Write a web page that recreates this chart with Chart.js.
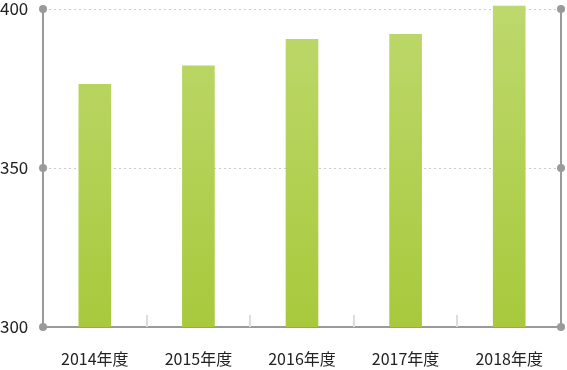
<!DOCTYPE html>
<html>
<head>
<meta charset="utf-8">
<script src="https://cdn.jsdelivr.net/npm/chart.js@4"></script>
<style>
  html, body { margin: 0; padding: 0; background: #fff; }
  #wrap { width: 567px; height: 370px; }
</style>
</head>
<body>
<div id="wrap"><canvas id="c" width="567" height="370"></canvas></div>
<script>
const categories = ['2014年度', '2015年度', '2016年度', '2017年度', '2018年度'];
const values = [376.4, 382.2, 390.6, 392.1, 401];
const yTicks = [300, 350, 400];

const FONT = '"Noto Sans CJK JP", "Noto Sans", sans-serif';
const AXIS = '#9a9a9a';

const decor = {
  id: 'decor',
  afterDatasetsDraw(chart) {
    const ctx = chart.ctx;
    const x = chart.scales.x;
    const area = chart.chartArea;
    ctx.save();
    ctx.strokeStyle = '#dddddd';
    ctx.lineWidth = 2;
    for (let i = 0; i < categories.length - 1; i++) {
      const px = Math.round((x.getPixelForValue(i) + x.getPixelForValue(i + 1)) / 2);
      ctx.beginPath();
      ctx.moveTo(px, area.bottom);
      ctx.lineTo(px, area.bottom - 12);
      ctx.stroke();
    }
    ctx.restore();
  },
  afterDraw(chart) {
    const ctx = chart.ctx;
    const y = chart.scales.y;
    const area = chart.chartArea;
    ctx.save();
    ctx.fillStyle = AXIS;
    yTicks.forEach(v => {
      const py = y.getPixelForValue(v);
      [area.left, area.right].forEach(px => {
        ctx.beginPath();
        ctx.arc(px, py, 4, 0, Math.PI * 2);
        ctx.fill();
      });
    });
    ctx.restore();
  }
};

const ctx = document.getElementById('c').getContext('2d');
new Chart(ctx, {
  type: 'bar',
  data: {
    labels: categories,
    datasets: [{
      data: values,
      backgroundColor: (c) => {
        const a = c.chart.chartArea;
        if (!a) return '#b3d152';
        const g = c.chart.ctx.createLinearGradient(0, a.top, 0, a.bottom);
        g.addColorStop(0, '#bdd86c');
        g.addColorStop(1, '#a8c93c');
        return g;
      },
      borderWidth: 0,
      categoryPercentage: 1,
      barPercentage: 0.315,
      clip: { left: 0, right: 0, top: 10, bottom: 0 }
    }]
  },
  options: {
    responsive: false,
    animation: false,
    devicePixelRatio: 1,
    layout: { padding: { top: 9, left: 0, right: 0, bottom: 0 } },
    plugins: { legend: { display: false }, tooltip: { enabled: false } },
    scales: {
      x: {
        grid: { display: false, drawTicks: false },
        border: { display: true, color: AXIS, width: 2 },
        ticks: { color: '#222', font: { family: FONT, size: 16 }, padding: 22 },
        afterFit: (s) => { s.height = 43; }
      },
      y: {
        min: 300, max: 400,
        afterBuildTicks: (s) => { s.ticks = yTicks.map(v => ({ value: v })); },
        grid: { color: '#cccccc', lineWidth: 1, drawTicks: false },
        border: { display: true, color: AXIS, width: 2, dash: [2, 3] },
        ticks: { color: '#222', font: { family: FONT, size: 17, lineHeight: 1 }, crossAlign: 'far', padding: 0 },
        afterFit: (s) => { s.width = 43; }
      },
      y2: {
        position: 'right',
        min: 300, max: 400,
        grid: { display: false, drawOnChartArea: false },
        border: { display: true, color: AXIS, width: 2 },
        ticks: { display: false },
        afterFit: (s) => { s.width = 6; }
      }
    }
  },
  plugins: [decor]
});
</script>
</body>
</html>
